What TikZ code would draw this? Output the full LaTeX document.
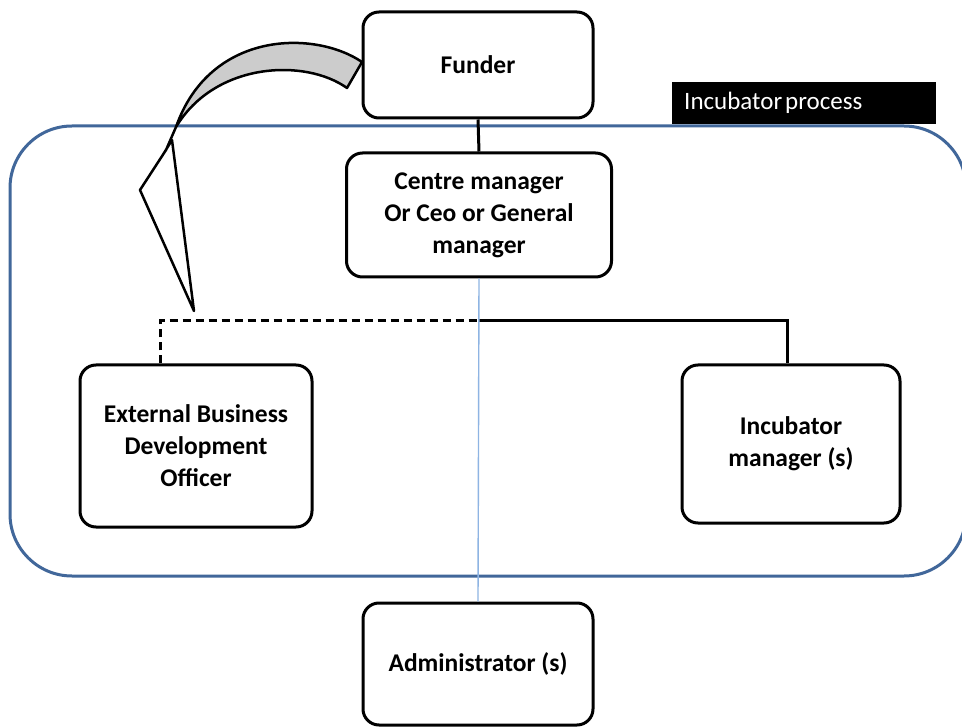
\documentclass[tikz,border=0pt]{standalone}
\usepackage{fontspec}
\setmainfont{Carlito}
\begin{document}
\begin{tikzpicture}[x=1pt,y=-1pt,
  role/.style={draw=black, line width=3pt, rounded corners=16pt, fill=white,
    align=center, font=\bfseries\fontsize{25.5}{32}\selectfont, inner sep=0pt},
  link/.style={draw=black, line width=3pt},
  staffline/.style={draw=linkblue, line width=1.4pt},
  arrowline/.style={draw=black, line width=2.5pt, line join=round}]
\definecolor{frameblue}{HTML}{41679A}
\definecolor{linkblue}{HTML}{8EB4E3}
\definecolor{bandgray}{HTML}{CCCCCC}
\useasboundingbox (0,0) rectangle (962,727);
\fill[white] (0,0) rectangle (962,727);

% incubator process frame
\draw[frameblue, line width=3pt, rounded corners=62pt] (10,126) rectangle (966,576);
\node[fill=black, anchor=north west, minimum width=264pt, minimum height=42pt,
  inner sep=0pt] (proc) at (672,82) {};
\node[text=white, anchor=west, font=\fontsize{25}{30}\selectfont, inner sep=0pt]
  (proclabel) at (684,103) {Incubator\hspace{0.12em}process};

% roles
\node[role, minimum width=230pt, minimum height=106pt] (funder) at (478,65) {Funder};
\node[role, minimum width=265pt, minimum height=124pt] (centre) at (479,215)
  {Centre manager\\Or Ceo or General\\manager};
\node[role, minimum width=232pt, minimum height=162pt] (ebdo) at (196,446)
  {External Business\\Development\\Officer};
\node[role, minimum width=218pt, minimum height=158pt] (incmgr) at (791,444)
  {Incubator\\manager (s)};
\node[role, minimum width=230pt, minimum height=122pt] (admin) at (478,664)
  {Administrator (s)};

% reporting lines
\coordinate (busL) at (160,321);
\coordinate (busM) at (478,321);
\coordinate (busR) at (787,321);
\draw[link] (funder.south) -- (centre.north);
\draw[link, dash pattern=on 8pt off 5pt] (ebdo.north -| busL) -- (busL) -- (busM);
\draw[link] (busM) -- (busR) -- (incmgr.north -| busR);
\draw[staffline] (centre.south) -- (admin.north);

% curved arrow from the funder
\filldraw[fill=bandgray, arrowline]
  (362,62) .. controls (315,30) and (210,30) .. (176,127)
  .. controls (215,62) and (305,58) .. (347,88) -- cycle;
\draw[arrowline] (176,127) -- (166,150) -- (140,190) -- (194,311) -- (172,140) -- (164,153);
\end{tikzpicture}
\end{document}
